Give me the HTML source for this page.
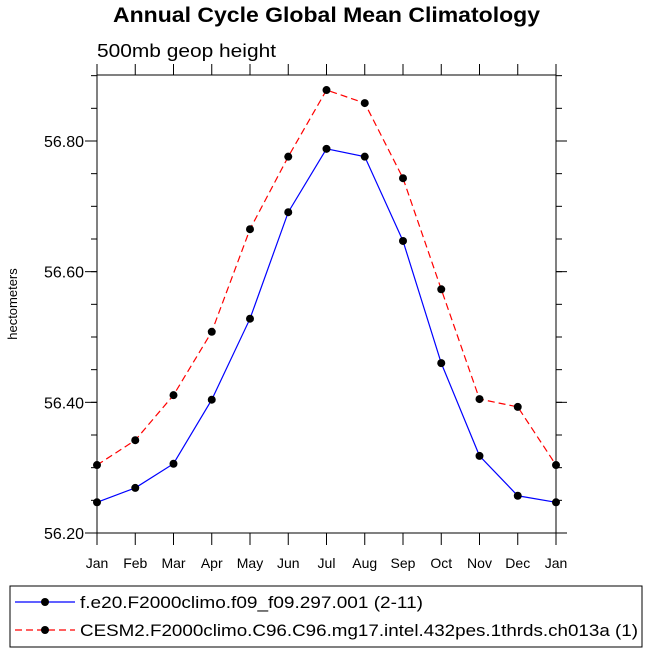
<!DOCTYPE html>
<html><head><meta charset="utf-8"><style>
body{margin:0;background:#fff;font-family:"Liberation Sans",sans-serif}
svg text{font-family:"Liberation Sans",sans-serif}
</style></head><body>
<svg id="c" width="648" height="653" xmlns="http://www.w3.org/2000/svg">
<text x="113" y="22" font-size="21" font-weight="bold" textLength="427" lengthAdjust="spacingAndGlyphs">Annual Cycle Global Mean Climatology</text>
<text x="97" y="57" font-size="18" textLength="179" lengthAdjust="spacingAndGlyphs">500mb geop height</text>
<text transform="translate(17,304) rotate(-90)" text-anchor="middle" font-size="13">hectometers</text>
<g id="axes"></g><g id="series"></g>
<rect x="10" y="586" width="632" height="61" fill="none" stroke="#000"/>
<g>
<line x1="15" y1="602" x2="75" y2="602" stroke="#0000ff" stroke-width="1.2"/>
<circle cx="45" cy="602" r="4" fill="#000"/>
<text x="80" y="608" font-size="17" textLength="343" lengthAdjust="spacingAndGlyphs">f.e20.F2000climo.f09_f09.297.001 (2-11)</text></g>
<g>
<line x1="15" y1="630" x2="75" y2="630" stroke="#ff0000" stroke-width="1.2" stroke-dasharray="7,4"/>
<circle cx="45" cy="630" r="4" fill="#000"/>
<text x="80" y="636" font-size="17" textLength="558" lengthAdjust="spacingAndGlyphs">CESM2.F2000climo.C96.C96.mg17.intel.432pes.1thrds.ch013a (1)</text></g>
</svg>
<script>
const months=["Jan","Feb","Mar","Apr","May","Jun","Jul","Aug","Sep","Oct","Nov","Dec","Jan"];
const yTicks=[56.20,56.40,56.60,56.80];
const blueVals=[56.247,56.269,56.306,56.404,56.528,56.691,56.788,56.776,56.647,56.460,56.318,56.257,56.247];
const redVals=[56.304,56.342,56.411,56.508,56.665,56.776,56.878,56.858,56.743,56.573,56.405,56.393,56.304];
const NS="http://www.w3.org/2000/svg";
const L=97,R=556,T=75,B=533,ymin=56.2,ymax=56.901;
const xs=i=>L+(R-L)*i/(months.length-1);
const ys=v=>B-(v-ymin)/(ymax-ymin)*(B-T);
function mk(tag,at,p){const e=document.createElementNS(NS,tag);for(const k in at)e.setAttribute(k,at[k]);p.appendChild(e);return e;}
const ax=document.getElementById('axes');
const fr=mk('rect',{x:L,y:T,width:R-L,height:B-T,fill:'none',stroke:'#000','stroke-width':1},ax);


months.forEach((m,i)=>{const x=xs(i);
mk('line',{x1:x,y1:B,x2:x,y2:B+12,stroke:'#000'},ax);
mk('line',{x1:x,y1:T,x2:x,y2:T-11,stroke:'#000'},ax);
const t=mk('text',{x:x,y:568,'text-anchor':'middle','font-size':14},ax);t.textContent=m;

});
for(let k=0;ymin+k*0.05<=ymax+1e-9;k++){const y=ys(ymin+k*0.05);
mk('line',{x1:L,y1:y,x2:L-6,y2:y,stroke:'#000'},ax);
mk('line',{x1:R,y1:y,x2:R+6,y2:y,stroke:'#000'},ax);}
yTicks.forEach(v=>{const y=ys(v);
mk('line',{x1:L,y1:y,x2:L-12,y2:y,stroke:'#000'},ax);
mk('line',{x1:R,y1:y,x2:R+11,y2:y,stroke:'#000'},ax);
const t=mk('text',{x:84,y:y+6,'text-anchor':'end','font-size':16},ax);t.textContent=v.toFixed(2);

});
const sg=document.getElementById('series');
function draw(vals,col,dash,name){
const pl=mk('polyline',{points:vals.map((v,i)=>xs(i)+','+ys(v)).join(' '),fill:'none',stroke:col,'stroke-width':1.2},sg);
if(dash)pl.setAttribute('stroke-dasharray',dash);


vals.forEach((v,i)=>{const c=mk('circle',{cx:xs(i),cy:ys(v),r:4,fill:'#000'},sg);

});}
draw(blueVals,'#0000ff',null,'blue-series');
draw(redVals,'#ff0000','7,4','red-series');
</script>
</body></html>
